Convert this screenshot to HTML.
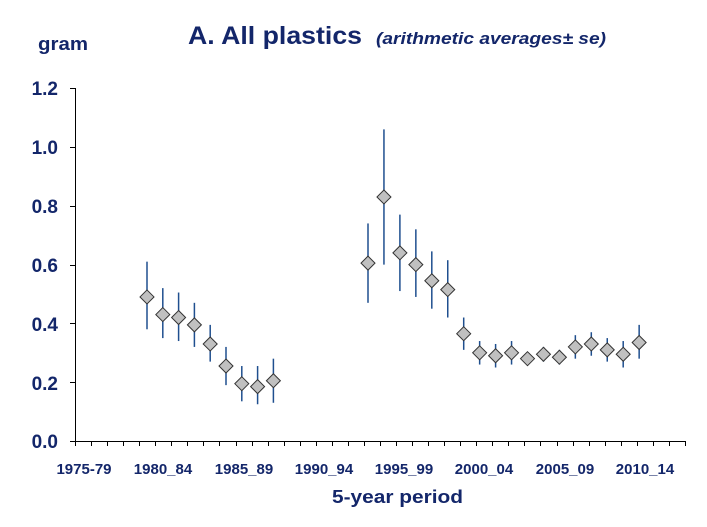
<!DOCTYPE html>
<html><head><meta charset="utf-8"><style>
body{margin:0;background:#fff;}
svg{display:block;font-family:"Liberation Sans",Arial,sans-serif;}
.t{fill:#13266a;font-weight:bold;}
</style></head><body>
<svg id="s" width="707" height="527" viewBox="0 0 707 527" xmlns="http://www.w3.org/2000/svg">
<text class="t" x="38" y="50" font-size="18" textLength="50" lengthAdjust="spacingAndGlyphs">gram</text>
<text class="t" x="188" y="44" font-size="25" textLength="174" lengthAdjust="spacingAndGlyphs">A.  All plastics</text>
<text class="t" x="376" y="44" font-size="17" font-style="italic" textLength="230" lengthAdjust="spacingAndGlyphs">(arithmetic averages± se)</text>
<g class="t" font-size="19" text-anchor="end">
<text x="58" y="95">1.2</text><text x="58" y="154">1.0</text><text x="58" y="213">0.8</text>
<text x="58" y="272">0.6</text><text x="58" y="331">0.4</text><text x="58" y="390">0.2</text><text x="58" y="448">0.0</text>
</g>
<g class="t" font-size="15" text-anchor="middle">
<text x="84" y="474">1975-79</text><text x="163" y="474">1980_84</text><text x="244" y="474">1985_89</text>
<text x="324" y="474">1990_94</text><text x="404" y="474">1995_99</text><text x="484" y="474">2000_04</text>
<text x="565" y="474">2005_09</text><text x="645" y="474">2010_14</text>
</g>
<text class="t" x="332" y="503" font-size="18" textLength="131" lengthAdjust="spacingAndGlyphs">5-year period</text>
<g id="ax" stroke="#000" stroke-width="1"></g>
<g id="d"></g>
</svg>
<script>
var ax=document.getElementById('ax'),d=document.getElementById('d'),ns='http://www.w3.org/2000/svg';
function el(p,t,a){var e=document.createElementNS(ns,t);for(var k in a)e.setAttribute(k,a[k]);p.appendChild(e);return e;}
function Y(v){return 441-v*294;}
el(ax,'line',{x1:75.5,y1:88,x2:75.5,y2:441});
el(ax,'line',{x1:75,y1:441.5,x2:686,y2:441.5});
for(var i=0;i<=6;i++){var y=Math.round(Y(i*0.2))+.5;el(ax,'line',{x1:70,y1:y,x2:75,y2:y});}
for(var i=0;i<=38;i++){var x=Math.round(75+i*16.05)+.5;el(ax,'line',{x1:x,y1:441,x2:x,y2:446});}
var g1=[[.49,.38,.61],[.43,.35,.52],[.42,.34,.505],[.395,.32,.47],[.33,.27,.395],[.255,.19,.32],[.195,.135,.255],[.185,.125,.255],[.205,.13,.28]];
var g2=[[.605,.47,.74],[.83,.6,1.06],[.64,.51,.77],[.6,.49,.72],[.545,.45,.645],[.515,.42,.615],[.365,.31,.42],[.3,.26,.34],[.29,.25,.33],[.3,.26,.34],[.28,.26,.3],[.295,.27,.32],[.285,.26,.31],[.32,.28,.36],[.33,.29,.37],[.31,.27,.35],[.295,.25,.34],[.335,.28,.395]];
function draw(g,x0,dx){g.forEach(function(p,k){var x=x0+dx*k;
el(d,'line',{x1:x,y1:Y(p[2]),x2:x,y2:Y(p[1]),stroke:'#1f4f8f','stroke-width':1.5});
var y=Y(p[0]),r=7;el(d,'polygon',{points:[x,y-r,x+r,y,x,y+r,x-r,y].join(','),fill:'#c0c0c0',stroke:'#333','stroke-width':1});});}
draw(g1,147,15.8);draw(g2,368,15.95);
</script>
</body></html>
